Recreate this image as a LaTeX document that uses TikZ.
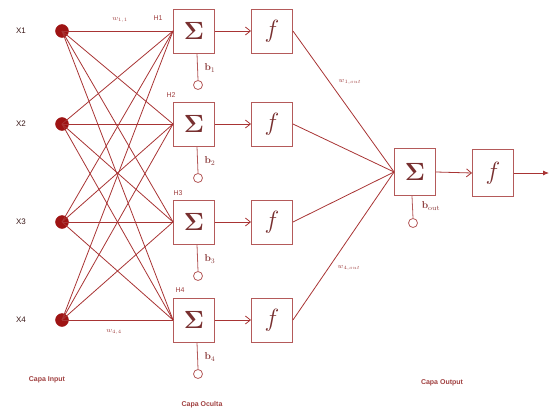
\documentclass[tikz,border=0pt]{standalone}
\usepackage{fontspec}
\setsansfont{Liberation Sans}
\usetikzlibrary{arrows.meta}
\definecolor{wire}{HTML}{A83434}
\definecolor{boxc}{HTML}{B45A5A}
\definecolor{dot}{HTML}{9E1414}
\definecolor{lbl}{HTML}{A04040}
\begin{document}
\begin{tikzpicture}[x=1pt,y=-1pt,
  inp/.style={circle,fill=dot,draw=dot,minimum size=13pt,inner sep=0pt},
  opbox/.style={draw=boxc,line width=0.9pt,minimum width=41pt,minimum height=44pt,inner sep=0pt},
  wire/.style={draw=wire,line width=0.8pt},
  biasc/.style={draw=boxc,line width=0.8pt,circle,minimum width=8pt,minimum height=9pt,inner sep=0pt},
  xl/.style={font=\sffamily\footnotesize,text=black!65!lbl},
  hl/.style={font=\sffamily\scriptsize,text=lbl},
  wl/.style={font=\scriptsize,text=lbl},
  bl/.style={font=\normalsize\bfseries,text=lbl!85!black},
  capa/.style={font=\sffamily\scriptsize\bfseries,text=lbl},
  sig/.style={opbox,font=\fontsize{25}{25}\selectfont\boldmath,text=lbl!75!black},
  act/.style={opbox,font=\fontsize{28}{28}\selectfont,text=lbl!75!black}]
\useasboundingbox (0,0) rectangle (551,412);

% input layer
\foreach \i/\y in {1/31,2/124,3/222,4/320}{
  \node[inp] (x\i) at (62,\y) {};
  \node[xl] (xl\i) at (21,\y) {X\i};
}

% hidden layer: summation and activation boxes
\foreach \i/\y/\hx/\hy in {1/31/158/18,2/124/171/95,3/222/178/193,4/320/180/290}{
  \node[sig] (s\i) at (194,\y) {$\Sigma$};
  \node[act] (f\i) at (272,\y) {$f$};
  \node[hl] (h\i) at (\hx,\hy) {H\i};
  \draw[wire,-{Straight Barb[length=5pt,width=8pt]}] (s\i.east) -- (f\i.west);
  \node[biasc] (c\i) at (198,\y+54) {};
  \draw[boxc,line width=0.8pt] ([xshift=3pt]s\i.south) -- (c\i.north);
  \node[bl] (b\i) at (210,\y+37) {b$_{\i}$};
}

% full connections input -> hidden
\foreach \i in {1,...,4}{
  \foreach \j in {1,...,4}{
    \draw[wire] (x\i.center) -- (s\j.west);
  }
}

% output layer
\node[sig,minimum height=47pt] (so) at (415,172) {$\Sigma$};
\node[act,minimum height=47pt] (fo) at (493,173) {$f$};
\draw[wire,-{Straight Barb[length=5pt,width=8pt]}] (so.east) -- (fo.west);
\coordinate (out) at (549,173);
\draw[wire,-{Latex[length=6pt,width=5pt]}] (fo.east) -- (out);
\node[biasc] (co) at (413,223) {};
\draw[boxc,line width=0.8pt] ([xshift=-3pt]so.south) -- (co.north);
\node[bl] (bo) at (431,206) {b$_{\mathrm{out}}$};

\foreach \i in {1,...,4}{
  \draw[wire] (f\i.east) -- (so.west);
}

% weight labels
\node[wl] (w11) at (120,20) {$w_{1,1}$};
\node[wl] (w44) at (114,332) {$w_{4,4}$};
\node[wl] (w1o) at (350,82) {$w_{1,out}$};
\node[wl] (w4o) at (349,268) {$w_{4,out}$};

% layer captions
\node[capa] (ci) at (47,380) {Capa Input};
\node[capa] (ch) at (202,405) {Capa Oculta};
\node[capa] (co2) at (442,383) {Capa Output};
\end{tikzpicture}
\end{document}
